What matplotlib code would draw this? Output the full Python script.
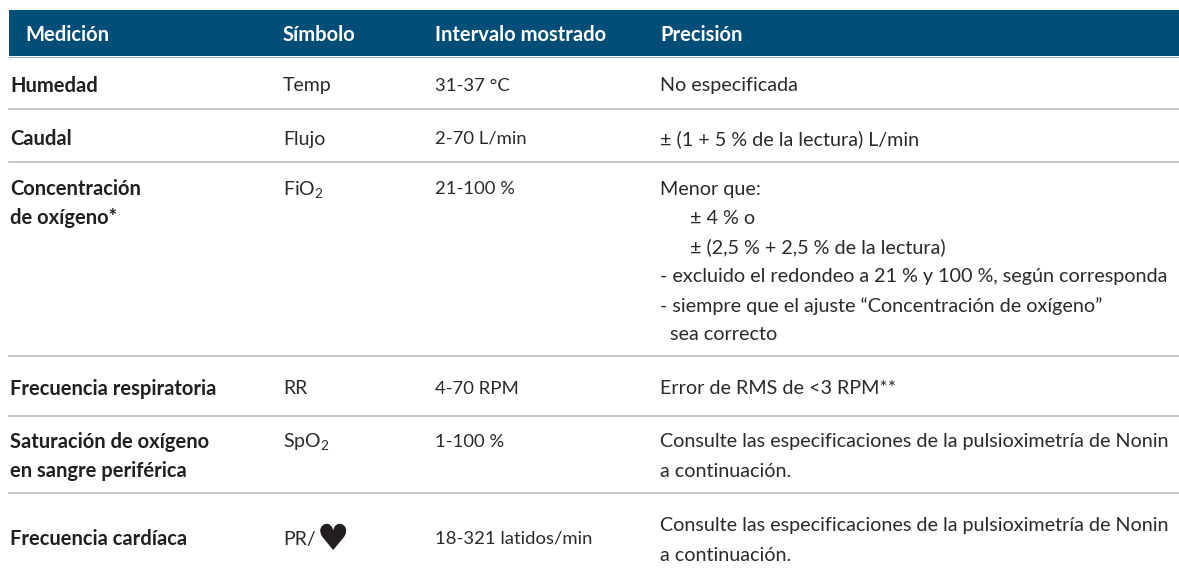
import matplotlib
matplotlib.use("Agg")
import matplotlib.pyplot as plt

plt.rcParams['font.family'] = ['Lato', 'DejaVu Sans']
plt.rcParams['mathtext.fontset'] = 'custom'
plt.rcParams['mathtext.rm'] = 'Lato'
plt.rcParams['mathtext.default'] = 'rm'

# contenido de la tabla
headers = ["Medición", "Símbolo", "Intervalo mostrado", "Precisión"]
mediciones = ["Humedad", "Caudal", "Concentración\nde oxígeno*", "Frecuencia respiratoria",
              "Saturación de oxígeno\nen sangre periférica", "Frecuencia cardíaca"]
simbolos = ["Temp", "Flujo", "FiO$_2$", "RR", "SpO$_2$", "PR/"]
intervalos = ["31-37 °C", "2-70 L/min", "21-100 %", "4-70 RPM", "1-100 %", "18-321 latidos/min"]
precision = [
    ["No especificada"],
    ["± (1 + 5 % de la lectura) L/min"],
    ["Menor que:", "      ± 4 % o", "      ± (2,5 % + 2,5 % de la lectura)",
     "- excluido el redondeo a 21 % y 100 %, según corresponda",
     "- siempre que el ajuste “Concentración de oxígeno”", "  sea correcto"],
    ["Error de RMS de <3 RPM**"],
    ["Consulte las especificaciones de la pulsioximetría de Nonin", "a continuación."],
    ["Consulte las especificaciones de la pulsioximetría de Nonin", "a continuación."],
]

# posiciones en píxeles
col_x = [10, 283, 435, 660]
header_x = [25.5, 282.5, 435, 660]
row_y = [86, 139, 189, 389, 442, 539]
prec_y = [86, 139, 189, 389, 442, 526]
line_y = [109, 162, 356, 416, 493]
line_h = 29.2
fs_head = 14.5
fs_bold = 14.5
fs_sym = 14.0
fs_int = 13.3
fs_prec = 14.2

fig = plt.figure(figsize=(11.79, 5.73), dpi=100)
ax = fig.add_axes([0, 0, 1, 1])
ax.set_xlim(0, 1179)
ax.set_ylim(573, 0)
ax.axis("off")

# cabecera
ax.fill_between([9, 1179], 10, 56, color="#034e78", lw=0)
ax.plot([9, 1179], [56.5, 56.5], color="#8fb0c8", lw=0.8)
for x, h in zip(header_x, headers):
    ax.text(x, 35, h, color="white", fontsize=fs_head, fontweight="bold", va="center")

# líneas de separación
for y in line_y:
    ax.plot([9, 1179], [y, y], color="#b9bcbc", lw=1.2)

text_color = "#2b2a29"
for i in range(6):
    ax.text(col_x[0], row_y[i], mediciones[i].split("\n")[0], color="#231f20", fontsize=fs_bold,
            fontweight="bold", va="center")
    if "\n" in mediciones[i]:
        ax.text(col_x[0], row_y[i] + 29, mediciones[i].split("\n")[1], color="#231f20", fontsize=fs_bold,
                fontweight="bold", va="center")
    ax.text(col_x[1], row_y[i], simbolos[i], color=text_color, fontsize=fs_sym, va="center")
    ax.text(col_x[2], row_y[i], intervalos[i], color=text_color, fontsize=fs_int, va="center")
    for j, linea in enumerate(precision[i]):
        ax.text(col_x[3], prec_y[i] + j * line_h, linea, color=text_color, fontsize=fs_prec, va="center")

# corazón de la frecuencia cardíaca
ax.text(333, 540, "♥", family="DejaVu Sans", color="#231f20", fontsize=26, ha="center", va="center")

fig.savefig("out.png", dpi=100)
